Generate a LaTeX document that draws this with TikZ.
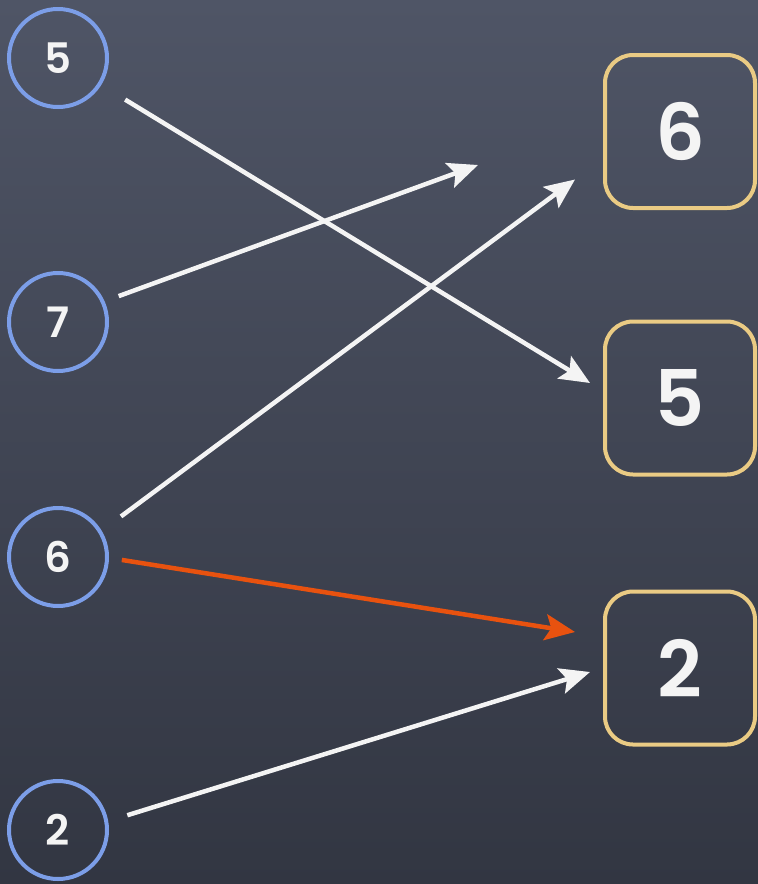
\documentclass[tikz,border=0pt]{standalone}
\usepackage{fontspec}
\setmainfont{Poppins}[BoldFont={* SemiBold}]
\usepackage{tikz}
\usetikzlibrary{calc}
\usetikzlibrary{arrows.meta}

\definecolor{slatetop}{HTML}{4F5566}
\definecolor{slatebot}{HTML}{323642}
\definecolor{ringblue}{HTML}{7C9EE8}
\definecolor{boxgold}{HTML}{EACB84}
\definecolor{chalk}{HTML}{F4F4F4}
\definecolor{redorange}{HTML}{E8520F}

\tikzset{
  num/.style={circle, draw=ringblue, line width=4pt, minimum size=98pt,
    text=chalk, font=\bfseries\fontsize{42}{42}\selectfont},
  slot/.style={rectangle, rounded corners=28pt, draw=boxgold, line width=4pt,
    minimum width=150pt, minimum height=153pt, text=chalk,
    font=\bfseries\fontsize{78}{78}\selectfont},
  link/.style={draw=chalk, line width=4.5pt,
    -{Stealth[length=30pt, width=26pt, inset=6pt]}},
  hot/.style={link, draw=redorange}
}

\begin{document}
\begin{tikzpicture}[x=1pt, y=-1pt]

                \shade[top color=slatetop, bottom color=slatebot] (0,0) rectangle (758,884);
                \useasboundingbox (0,0) rectangle (758,884);

                % left column
                \node [num] (c5) at (58, 58) {5};
                \node [num] (c7) at (58, 322) {7};
                \node [num] (c6) at (58, 557) {6};
                \node [num] (c2) at (58, 830) {2};

                % right column
                \node [slot] (b6) at (680, 131.5) {6};
                \node [slot] (b5) at (680, 398) {5};
                \node [slot] (b2) at (680, 668) {2};

                \coordinate (miss) at (478, 165);

                \draw [link, shorten <=28pt] (c5.-32) -- ([shift={(-13,-15)}]b5.west);
                \draw [link, shorten <=15pt] (c7.24) -- (miss);
                \draw [link, shorten <=24pt] (c6.31) -- ([shift={(-28,48)}]b6.west);
                \draw [hot, shorten <=13pt] (c6.-1) -- ([shift={(-28,-36)}]b2.west);
                \draw [link, shorten <=20pt] (c2.10) -- ([shift={(-13,4)}]b2.west);

            \end{tikzpicture}
\end{document}
